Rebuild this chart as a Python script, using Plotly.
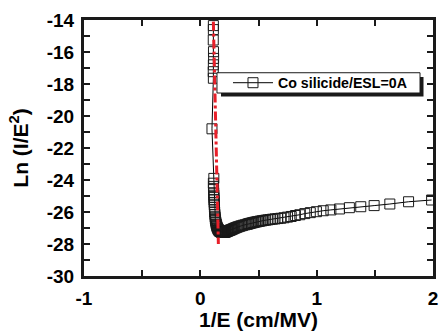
import plotly.graph_objects as go

# Measured data: 1/E (cm/MV) and Ln(I/E^2)
x_data = [0.112, 0.112, 0.111, 0.113, 0.114, 0.112, 0.111, 0.112,
          0.100, 0.116,
          0.112, 0.113, 0.114, 0.115, 0.116, 0.117, 0.118, 0.119, 0.120, 0.121,
          0.122, 0.123, 0.125, 0.127, 0.129, 0.131, 0.134, 0.137, 0.140, 0.143,
          0.147, 0.151, 0.155, 0.159, 0.163, 0.167, 0.171, 0.175, 0.179, 0.182,
          0.186, 0.190, 0.194, 0.198, 0.202, 0.207, 0.212, 0.217, 0.222, 0.228,
          0.234, 0.240, 0.247, 0.254, 0.261, 0.269, 0.277, 0.286, 0.295, 0.305,
          0.316, 0.327, 0.340, 0.353, 0.367, 0.383, 0.400, 0.409, 0.418, 0.428,
          0.439, 0.450, 0.461, 0.473, 0.486, 0.500, 0.514, 0.529, 0.545, 0.562,
          0.580, 0.599, 0.620, 0.642, 0.666, 0.691, 0.719, 0.749, 0.781, 0.817,
          0.855, 0.898, 0.945, 0.998, 1.056, 1.122, 1.196, 1.281, 1.379, 1.494,
          1.629, 1.790, 1.988]
y_data = [-14.35, -14.6, -15.25, -15.98, -16.4, -16.8, -17.23, -17.64,
          -20.8, -23.9,
          -24.2, -24.4, -24.6, -24.8, -24.95, -25.1, -25.25, -25.4, -25.55, -25.7,
          -25.85, -26.0, -26.15, -26.3, -26.42, -26.54, -26.65, -26.75, -26.84, -26.92,
          -26.99, -27.05, -27.1, -27.14, -27.17, -27.2, -27.22, -27.24, -27.25, -27.26,
          -27.27, -27.28, -27.28, -27.28, -27.28, -27.27, -27.26, -27.25, -27.24, -27.22,
          -27.2, -27.18, -27.16, -27.14, -27.12, -27.1, -27.07, -27.04, -27.01, -26.98,
          -26.95, -26.92, -26.89, -26.86, -26.83, -26.8, -26.77, -26.75, -26.73, -26.71,
          -26.69, -26.67, -26.65, -26.63, -26.61, -26.59, -26.57, -26.55, -26.53, -26.51,
          -26.49, -26.47, -26.45, -26.43, -26.41, -26.39, -26.36, -26.32, -26.28, -26.22,
          -26.17, -26.1, -26.04, -25.98, -25.92, -25.87, -25.81, -25.73, -25.67, -25.6,
          -25.5, -25.36, -25.25]

fit_x = [0.112, 0.155]
fit_y = [-14.1, -28.0]

series_name = "Co silicide/ESL=0A"
x_ticks = [-1, 0, 1, 2]
y_ticks = [-30, -28, -26, -24, -22, -20, -18, -16, -14]

FONT = "Liberation Sans"
INK = "#1a1a1a"

fig = go.Figure()
fig.add_trace(go.Scatter(
    x=x_data, y=y_data, mode="lines+markers", name=series_name,
    line=dict(color="black", width=1),
    marker=dict(symbol="square-open", size=10, color=INK,
                line=dict(width=1, color=INK)),
))
fig.add_trace(go.Scatter(
    x=fit_x, y=fit_y, mode="lines", showlegend=False,
    line=dict(color="#e8202a", width=3, dash="dashdot"),
))

axis_common = dict(
    showline=True, linewidth=3, linecolor=INK, mirror="ticks",
    ticks="inside", ticklen=6, tickwidth=2, tickcolor=INK,
    showgrid=False, zeroline=False, automargin=False,
    ticklabelstandoff=3,
    tickfont=dict(family=FONT, size=19, color="black", weight="bold"),
)

fig.update_layout(
    width=439, height=331,
    margin=dict(l=84, r=6, t=20, b=55),
    paper_bgcolor="white", plot_bgcolor="white",
    xaxis=dict(range=[-1, 2], tickvals=x_ticks, ticktext=[str(v) for v in x_ticks],
               minor=dict(dtick=0.5, tick0=0, ticks="inside", ticklen=6, tickwidth=2,
                          tickcolor=INK),
               title=dict(text="1/E (cm/MV)", standoff=3,
                          font=dict(family=FONT, size=21, color="black", weight="bold")),
               **axis_common),
    yaxis=dict(range=[-30, -14], tickvals=y_ticks, ticktext=[str(v) for v in y_ticks],
               minor=dict(dtick=1, tick0=0, ticks="inside", ticklen=6, tickwidth=2,
                          tickcolor=INK),
               title=dict(text="Ln (I/E<sup>2</sup>)", standoff=13,
                          font=dict(family=FONT, size=21, color="black", weight="bold")),
               **axis_common),
    legend=dict(x=0.4126, y=0.754, xanchor="left", yanchor="middle",
                bgcolor="rgba(0,0,0,0)", borderwidth=0,
                font=dict(family=FONT, size=14.2, color="black", weight="bold"),
                itemwidth=40),
    showlegend=True,
    shapes=[
        dict(type="rect", xref="paper", yref="paper",
             x0=0.3926, x1=0.9728, y0=0.701, y1=0.777,
             fillcolor=INK, line=dict(width=0), layer="above"),
        dict(type="rect", xref="paper", yref="paper",
             x0=0.381, x1=0.9628, y0=0.7148, y1=0.794,
             fillcolor="white", line=dict(width=1, color=INK), layer="above"),
    ],
)

fig.write_html("out.html")
